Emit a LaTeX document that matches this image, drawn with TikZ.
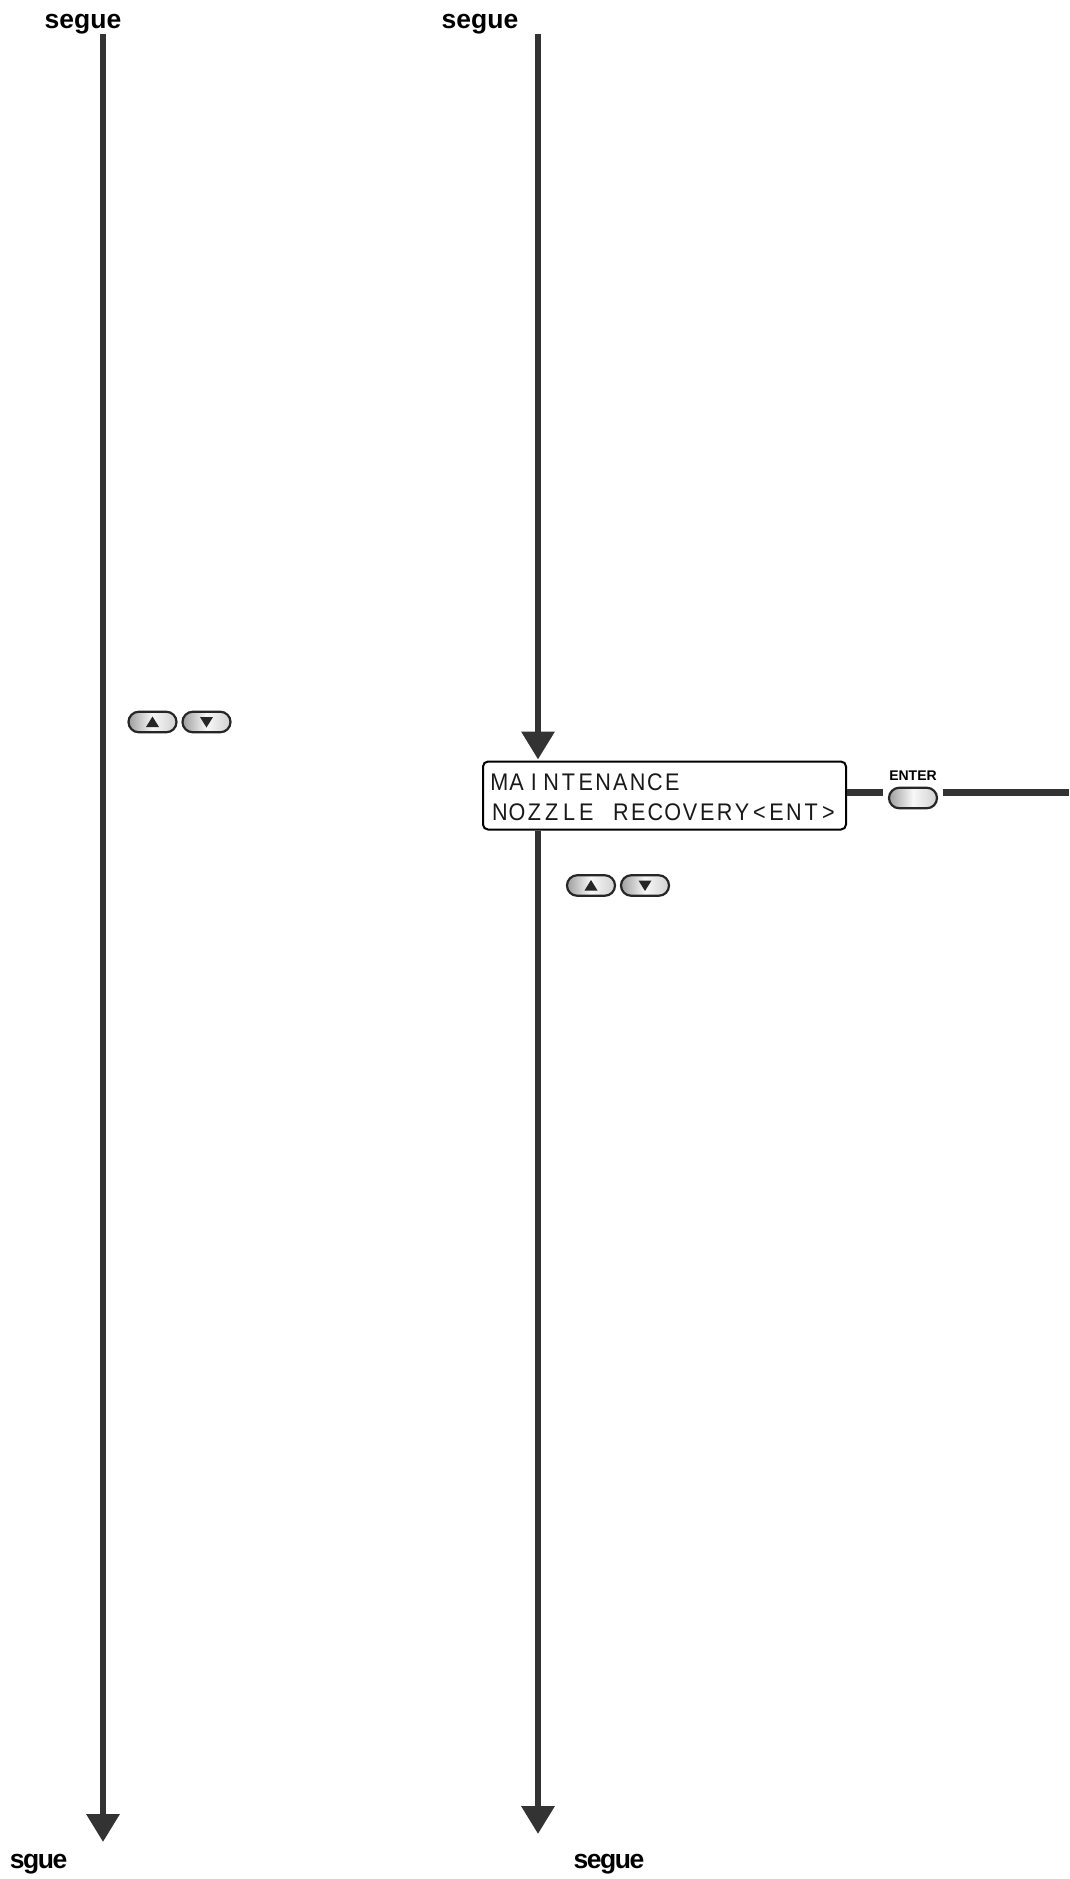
\documentclass[tikz,border=0pt]{standalone}
\usepackage{fontspec}
\setmainfont{Liberation Sans}
\newfontfamily\lcdfont[FakeStretch=0.9]{Liberation Sans}
\usetikzlibrary{arrows.meta,shapes.misc,calc}
\definecolor{linedark}{HTML}{333333}
\newcommand{\lcdcell}[1]{\makebox[17.3pt]{#1}}
\makeatletter
\newcommand{\lcdline}[1]{\@lcdloop#1\@nil}
\def\@lcdloop#1{\ifx#1\@nil\else\lcdcell{#1}\expandafter\@lcdloop\fi}
\makeatother
\tikzset{
  x=1pt,y=-1pt,
  flow/.style={line width=6.5pt,draw=linedark,-{Triangle[length=28pt,width=32pt]}},
  link/.style={line width=6.5pt,draw=linedark},
  keybtn/.style={rounded rectangle,draw=black!85,line width=2.2pt,minimum width=48pt,minimum height=20.5pt,inner sep=0pt,left color=black!38,right color=black!18,middle color=black!3},
  seguelbl/.style={font=\bfseries\fontsize{26.5}{28}\selectfont,inner sep=0pt,anchor=base},
  tightlbl/.style={font=\bfseries\fontsize{26.5}{28}\selectfont\addfontfeature{LetterSpace=-5.5},inner sep=0pt,anchor=base},
  lcdbox/.style={draw=black,line width=2pt,rounded corners=5pt,minimum width=363pt,minimum height=68pt,inner sep=0pt},
  lcdtext/.style={font=\lcdfont\fontsize{24}{25}\selectfont,inner sep=0pt,anchor=base west,text=black!90},
  tri/.style={fill=black!85,inner sep=0pt,draw=none}
}
\begin{document}
\begin{tikzpicture}
\useasboundingbox (0,0) rectangle (1069,1879);
\fill[white] (0,0) rectangle (1069,1879);

\node[seguelbl] (lblA) at (83,28) {segue};
\node[seguelbl] (lblB) at (480,28) {segue};
\node[tightlbl] (lblC) at (38.5,1868) {sgue};
\node[tightlbl] (lblD) at (609,1868) {segue};

\coordinate (startL) at (103,33.5);
\coordinate (endL) at (103,1842);
\coordinate (startR) at (538,33.5);
\coordinate (endR) at (538,1834);

\node[lcdbox] (lcd) at (664.5,795.5) {};
\node[lcdtext] (lcdA) at (490.5,790) {\lcdline{MAINTENANCE}};
\node[lcdtext] (lcdB) at (491,820) {\lcdline{NOZZLE~RECOVERY<ENT>}};

\draw[flow] (startL) -- (endL);
\draw[flow,shorten >=1pt] (startR) -- (startR |- lcd.north);
\draw[flow] (startR |- lcd.south) -- (endR);

\node[keybtn] (enter) at (913,798) {};
\node[font=\bfseries\fontsize{14}{15}\selectfont,inner sep=0pt] (enterlbl) at (913,776) {ENTER};
\coordinate (linkA) at (883,792.5);
\coordinate (linkB) at (943,792.5);
\coordinate (linkEnd) at (1069,792.5);
\draw[link] (lcd.east |- linkA) -- (linkA);
\draw[link] (linkB) -- (linkEnd);

\foreach \nm/\cx/\cy/\dir in {ua/152.5/722/u,da/206.5/722/d,ub/591/885.5/u,db/645/885.5/d}{
  \node[keybtn] (\nm) at (\cx,\cy) {};
  \if\dir u
    \fill[tri] (\cx-6.5,\cy+5) -- (\cx+6.5,\cy+5) -- (\cx,\cy-5.5) -- cycle;
  \else
    \fill[tri] (\cx-6.5,\cy-5) -- (\cx+6.5,\cy-5) -- (\cx,\cy+5.5) -- cycle;
  \fi
}
\end{tikzpicture}
\end{document}
